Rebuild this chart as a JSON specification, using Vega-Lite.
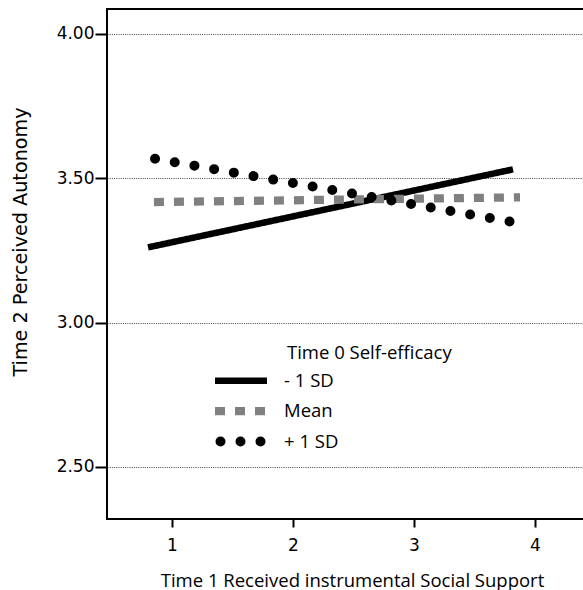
{
  "$schema": "https://vega.github.io/schema/vega-lite/v6.json",
  "width": 478,
  "height": 510,
  "autosize": {"type": "none"},
  "padding": {"left": 107, "top": 9, "right": 0, "bottom": 71},
  "background": "white",
  "config": {
    "view": {"stroke": "black", "strokeWidth": 2},
    "axis": {
      "domain": false,
      "tickColor": "black",
      "tickWidth": 2,
      "labelColor": "black",
      "labelFont": "DejaVu Sans",
      "labelFontSize": 17,
      "titleColor": "black",
      "titleFontWeight": "normal"
    },
    "legend": {
      "orient": "none",
      "padding": 0,
      "gridAlign": "all",
      "symbolType": "M-1,0H9.4",
      "symbolSize": 100,
      "labelFont": "Open Sans",
      "labelFontSize": 18.5,
      "labelColor": "black",
      "titleFont": "Open Sans",
      "titleFontSize": 18.5,
      "titleFontWeight": "normal",
      "titleColor": "black",
      "labelOffset": 54,
      "rowPadding": -16,
      "titlePadding": 9
    }
  },
  "data": {
    "values": [
      {"group": "- 1 SD", "x": 0.802, "y": 3.26},
      {"group": "- 1 SD", "x": 3.818, "y": 3.53},
      {"group": "Mean", "x": 0.851, "y": 3.417},
      {"group": "Mean", "x": 3.876, "y": 3.433},
      {"group": "+ 1 SD", "x": 0.86, "y": 3.567},
      {"group": "+ 1 SD", "x": 3.84, "y": 3.346}
    ]
  },
  "encoding": {
    "x": {
      "field": "x",
      "type": "quantitative",
      "scale": {"domain": [0.463, 4.413], "nice": false, "zero": false},
      "axis": {
        "values": [1, 2, 3, 4],
        "format": "d",
        "tickSize": 8,
        "labelPadding": 10,
        "grid": false,
        "title": "Time 1 Received instrumental Social Support",
        "titleFont": "Open Sans",
        "titleFontSize": 18.5,
        "titleX": 245,
        "titleY": 61,
        "titleAlign": "center",
        "titleBaseline": "middle"
      }
    },
    "y": {
      "field": "y",
      "type": "quantitative",
      "scale": {"domain": [2.32, 4.085], "nice": false, "zero": false},
      "axis": {
        "values": [2.5, 3, 3.5, 4],
        "format": ".2f",
        "tickSize": 12,
        "labelPadding": 1,
        "grid": true,
        "gridColor": "#444",
        "gridDash": [1, 1.2],
        "gridWidth": 1,
        "title": "Time 2 Perceived  Autonomy",
        "titleFont": "DejaVu Sans",
        "titleFontSize": 19.2,
        "titleAngle": -90,
        "titleX": -87,
        "titleY": 232.5,
        "titleAlign": "center",
        "titleBaseline": "middle"
      }
    },
    "stroke": {
      "field": "group",
      "type": "nominal",
      "title": "Time 0 Self-efficacy",
      "scale": {"domain": ["- 1 SD", "Mean", "+ 1 SD"], "range": ["black", "#808080", "black"]},
      "legend": {
        "legendX": 103,
        "legendY": 335,
        "encoding": {
          "symbols": {
            "strokeCap": {"condition": {"test": "datum.value === '+ 1 SD'", "value": "round"}, "value": "butt"},
            "strokeWidth": {"condition": {"test": "datum.value === '- 1 SD'", "value": 6}, "value": 10},
            "strokeDashOffset": {"condition": {"test": "datum.value === '+ 1 SD'", "value": 14.5}, "value": 0}
          },
          "title": {"dx": {"value": 77}}
        }
      }
    },
    "strokeDash": {
      "field": "group",
      "type": "nominal",
      "title": "Time 0 Self-efficacy",
      "scale": {"domain": ["- 1 SD", "Mean", "+ 1 SD"], "range": [[1, 0], [10, 10], [0, 20]]}
    },
    "strokeWidth": {
      "field": "group",
      "type": "ordinal",
      "scale": {"domain": ["- 1 SD", "Mean", "+ 1 SD"], "range": [6.5, 10, 10]},
      "legend": null
    }
  },
  "layer": [
    {
      "transform": [{"filter": "datum.group !== '+ 1 SD'"}],
      "mark": {"type": "line", "strokeCap": "butt"}
    },
    {
      "transform": [{"filter": "datum.group === '+ 1 SD'"}],
      "mark": {"type": "line", "strokeCap": "round"}
    }
  ]
}
